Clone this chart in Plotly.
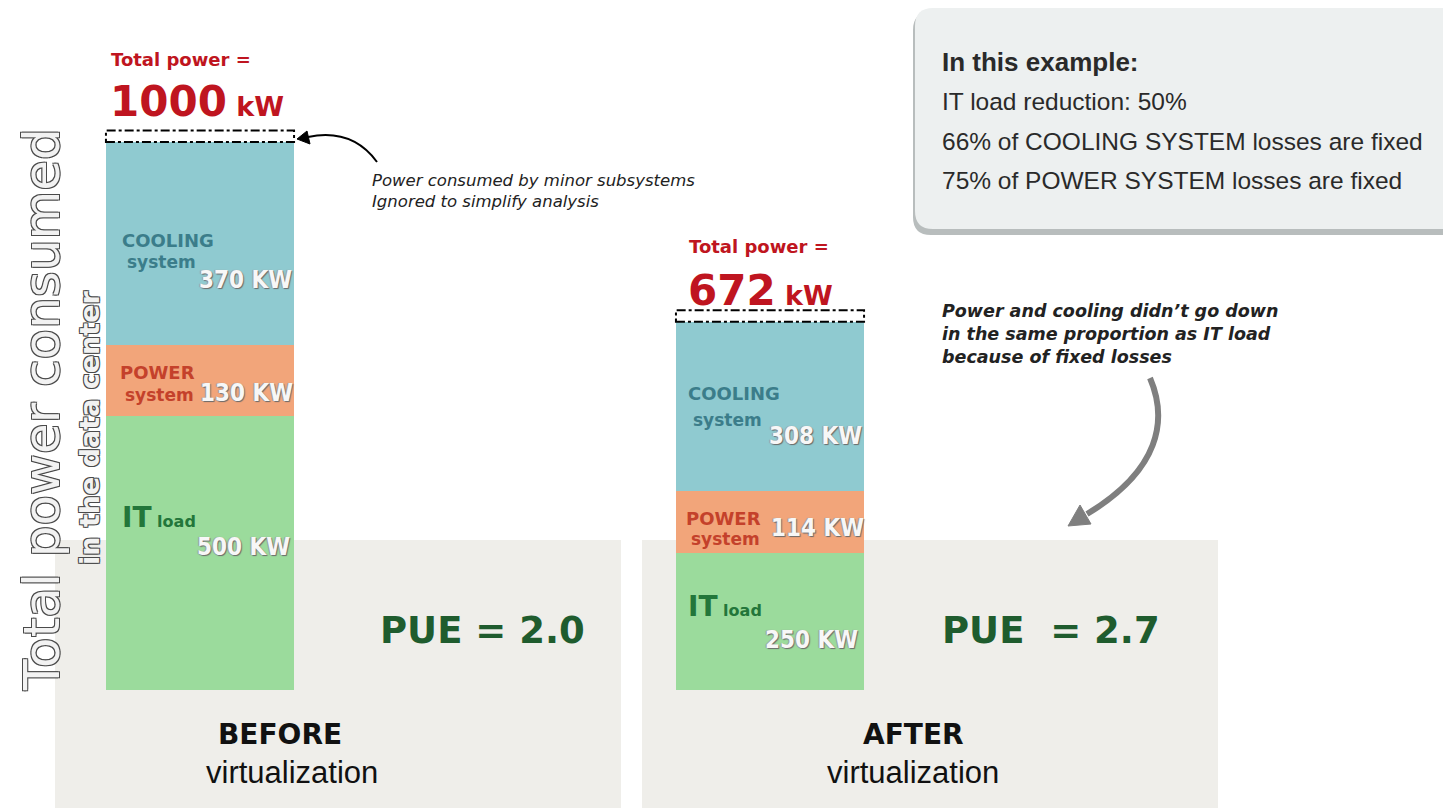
import plotly.graph_objects as go

# ---------------- data ----------------
stages = ["BEFORE", "AFTER"]
it_load = [500, 250]
power_system = [130, 114]
cooling_system = [370, 308]
totals = [1000, 672]
pue = ["2.0", "2.7"]
value_labels_cooling = ["370 KW", "308 KW"]
value_labels_power = ["130 KW", "114 KW"]
value_labels_it = ["500 KW", "250 KW"]
example_lines = ["IT load reduction: 50%",
                 "66% of COOLING SYSTEM losses are fixed",
                 "75% of POWER SYSTEM losses are fixed"]

W, H = 1443, 808


def px(x):
    return x / W


def py(y):
    return 1 - y / H


C_COOL = "#8fcad0"
C_POWER = "#f2a57a"
C_IT = "#9bdb9c"
T_COOL = "#3b7d8a"
T_POWER = "#c4412b"
T_IT = "#23763a"
RED = "#bf1520"
PUE_GREEN = "#1f5c2e"

SANS = "Liberation Sans, Arial, sans-serif"
VERD = "DejaVu Sans, Verdana, sans-serif"
NARROW = "Liberation Sans Narrow, Arial Narrow, DejaVu Sans Condensed, sans-serif"

fig = go.Figure()
fig.add_trace(go.Bar(x=stages, y=it_load, marker=dict(color=C_IT, line=dict(width=0)), width=0.33, hoverinfo="skip"))
fig.add_trace(go.Bar(x=stages, y=power_system, marker=dict(color=C_POWER, line=dict(width=0)), width=0.33, hoverinfo="skip"))
fig.add_trace(go.Bar(x=stages, y=cooling_system, marker=dict(color=C_COOL, line=dict(width=0)), width=0.33, hoverinfo="skip"))

shapes = []
# background panels
shapes.append(dict(type="rect", xref="paper", yref="paper", x0=px(55), x1=px(621), y0=py(808), y1=py(540),
                   fillcolor="#efeeea", line=dict(width=0), layer="below"))
shapes.append(dict(type="rect", xref="paper", yref="paper", x0=px(642), x1=px(1218), y0=py(808), y1=py(540),
                   fillcolor="#efeeea", line=dict(width=0), layer="below"))


def rounded(x0, y0, x1, y1, r):
    pts = (f"M {px(x0 + r)} {py(y0)} L {px(x1 - r)} {py(y0)} "
           f"Q {px(x1)} {py(y0)} {px(x1)} {py(y0 + r)} L {px(x1)} {py(y1 - r)} "
           f"Q {px(x1)} {py(y1)} {px(x1 - r)} {py(y1)} L {px(x0 + r)} {py(y1)} "
           f"Q {px(x0)} {py(y1)} {px(x0)} {py(y1 - r)} L {px(x0)} {py(y0 + r)} "
           f"Q {px(x0)} {py(y0)} {px(x0 + r)} {py(y0)} Z")
    return pts


# info box with shadow
shapes.append(dict(type="path", xref="paper", yref="paper", path=rounded(913, 12, 1470, 235, 18),
                   fillcolor="#b8bdbd", line=dict(width=0), layer="below"))
shapes.append(dict(type="path", xref="paper", yref="paper", path=rounded(915, 8, 1470, 229, 18),
                   fillcolor="#edf0f0", line=dict(width=0), layer="below"))

# dashed boxes on top of bars (minor subsystems)
for i, t in enumerate(totals):
    shapes.append(dict(type="rect", xref="x", yref="y", x0=i - 0.165, x1=i + 0.165, y0=t, y1=t + 21,
                       line=dict(color="black", width=2, dash="dashdot"), fillcolor="rgba(0,0,0,0)"))

# black curved arrow
shapes.append(dict(type="path", xref="paper", yref="paper",
                   path=f"M {px(377)} {py(162)} Q {px(352)} {py(128)} {px(308)} {py(137)}",
                   line=dict(color="black", width=2)))
shapes.append(dict(type="path", xref="paper", yref="paper",
                   path=f"M {px(297)} {py(139)} L {px(310)} {py(144)} L {px(307)} {py(131)} Z",
                   fillcolor="black", line=dict(color="black", width=1)))

# gray curved arrow
shapes.append(dict(type="path", xref="paper", yref="paper",
                   path=f"M {px(1150)} {py(378)} C {px(1168)} {py(420)} {px(1160)} {py(470)} {px(1087)} {py(514)}",
                   line=dict(color="#7f7f7f", width=6)))
shapes.append(dict(type="path", xref="paper", yref="paper",
                   path=f"M {px(1068)} {py(526)} L {px(1091)} {py(524)} L {px(1080)} {py(505)} Z",
                   fillcolor="#7f7f7f", line=dict(color="#7f7f7f", width=1)))

ann = []


def A(x, y, text, size, color, family=SANS, xanchor="left", yanchor="middle", **kw):
    d = dict(xref="paper", yref="paper", x=px(x), y=py(y), text=text, showarrow=False,
             xanchor=xanchor, yanchor=yanchor,
             font=dict(size=size, color=color, family=family), align="left")
    if "shadow" in kw:
        d["font"]["shadow"] = kw.pop("shadow")
    d.update(kw)
    ann.append(d)


OUTLINE = "-1px -1px 0 #4a4a4a, 1px -1px 0 #4a4a4a, -1px 1px 0 #4a4a4a, 1px 1px 0 #4a4a4a"
VAL_SHADOW = "1px 1px 1px #6a6a6a, -1px 0 1px #9a9a9a"

# y-axis style titles
A(42, 410, "Total power consumed", 50, "#f2f2f2", VERD, "center", "middle", textangle=-90, shadow=OUTLINE)
A(89, 428, "<b>in the data center</b>", 27, "#f2f2f2", VERD, "center", "middle", textangle=-90, shadow=OUTLINE)

# totals
tot_pos = [(108, 60, 101), (686, 247, 290)]
for (x, y1, y2), t in zip(tot_pos, totals):
    A(x + 1, y1, "<b>Total power =</b>", 18, RED, VERD)
    A(x, y2, f"<b>{t}<span style='font-size:27px'> kW</span></b>", 42, RED, VERD)

A(370, 191, "<i>Power consumed by minor subsystems<br>Ignored to simplify analysis</i>", 16.5, "#222222", VERD)

# segment labels
seg = [
    dict(cx=120, cool=(240, 262), power=(372, 395), it=517,
         vcool=(294, 280), vpow=(295, 393), vit=(292, 547)),
    dict(cx=686, cool=(393, 420), power=(518, 539), it=606,
         vcool=(864, 436), vpow=(866, 528), vit=(860, 640)),
]
for i, s in enumerate(seg):
    cx = s["cx"]
    A(cx, s["cool"][0], "<b>COOLING</b>", 18, T_COOL, VERD)
    A(cx + 5, s["cool"][1], "<b>system</b>", 17, T_COOL, VERD)
    A(cx - 2, s["power"][0], "<b>POWER</b>", 18, T_POWER, VERD)
    A(cx + 3, s["power"][1], "<b>system</b>", 17, T_POWER, VERD)
    A(cx, s["it"], "<b><span style='font-size:28px'>IT</span> load</b>", 16, T_IT, VERD)
    A(s["vcool"][0], s["vcool"][1], f"<b>{value_labels_cooling[i]}</b>", 24, "#f7f7f7", NARROW, "right", shadow=VAL_SHADOW)
    A(s["vpow"][0], s["vpow"][1], f"<b>{value_labels_power[i]}</b>", 24, "#f7f7f7", NARROW, "right", shadow=VAL_SHADOW)
    A(s["vit"][0], s["vit"][1], f"<b>{value_labels_it[i]}</b>", 24, "#f7f7f7", NARROW, "right", shadow=VAL_SHADOW)

# PUE
A(378, 630, f"<b>PUE = {pue[0]}</b>", 37, PUE_GREEN, VERD)
A(940, 630, f"<b>PUE  = {pue[1]}</b>", 37, PUE_GREEN, VERD)

# stage labels
for x, st in zip([280, 913], stages):
    A(x, 734, f"<b>{st}</b>", 28, "#111111", VERD, "center")
    A(x + (12 if st == "BEFORE" else 0), 772, "virtualization", 31, "#111111", SANS, "center")

# info box text
A(940, 62, "<b>In this example:</b>", 26, "#2a2a2a", SANS)
for y, line in zip([101, 141, 181], example_lines):
    A(940, y, line, 24.5, "#2a2a2a", SANS)

# side note
A(940, 334, "<b><i>Power and cooling didn’t go down<br>in the same proportion as IT load<br>because of fixed losses</i></b>",
  17.5, "#222222", VERD)

x_lo = -200 / 570
x_hi = (W - 200) / 570
y_lo = -(H - 690) / 0.548
y_hi = 690 / 0.548

fig.update_layout(
    width=W, height=H, autosize=False,
    margin=dict(l=0, r=0, t=0, b=0),
    paper_bgcolor="white", plot_bgcolor="rgba(0,0,0,0)",
    barmode="stack", bargap=0, showlegend=False,
    xaxis=dict(visible=False, range=[x_lo, x_hi], type="category", fixedrange=True),
    yaxis=dict(visible=False, range=[y_lo, y_hi], fixedrange=True),
    shapes=shapes, annotations=ann,
    font=dict(family=SANS),
)

fig.write_html("out.html", config={"displayModeBar": False},
               post_script="document.body.style.margin='0';document.body.style.overflow='hidden';")
